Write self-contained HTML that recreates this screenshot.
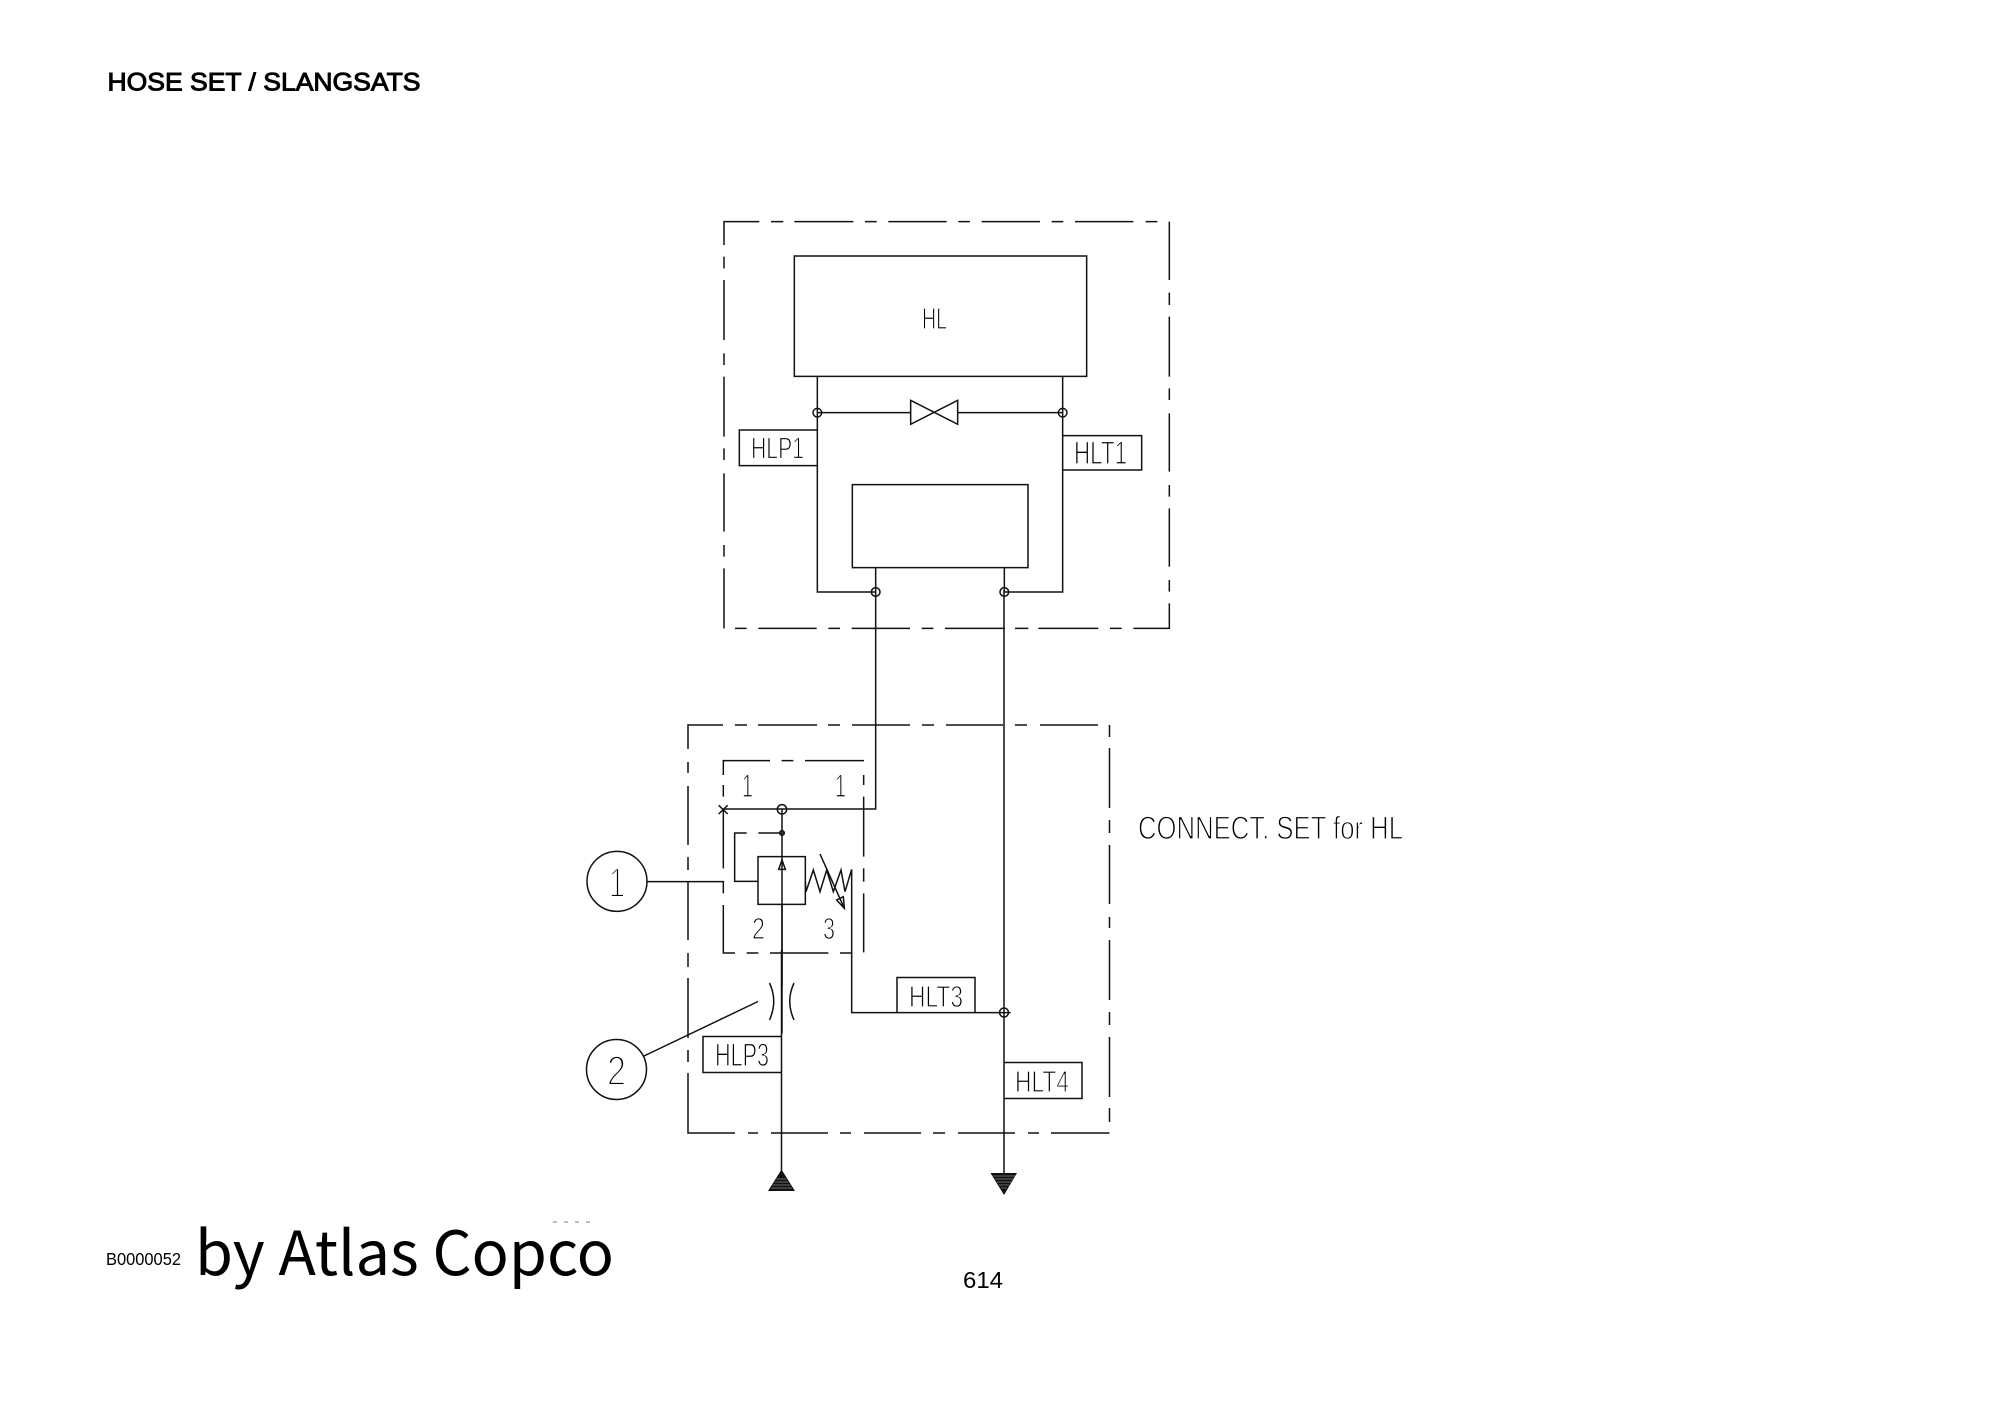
<!DOCTYPE html>
<html><head><meta charset="utf-8"><style>
html,body{margin:0;padding:0;background:#fff;width:2000px;height:1415px;overflow:hidden}
svg{display:block}
.l{fill:none;stroke:#111;stroke-width:1.5}
.t{font-family:"Liberation Sans",sans-serif;fill:#000;stroke:#fff;stroke-width:1.15;}
.b{stroke-width:1.9}
.h{font-family:"Liberation Sans",sans-serif;fill:#000}
</style></head><body>
<svg width="2000" height="1415" viewBox="0 0 2000 1415" xmlns="http://www.w3.org/2000/svg">
<rect width="2000" height="1415" fill="#fff"/>
<!-- upper group in zoom coords -->
<g transform="translate(700 200) scale(.33333)" class="l" style="stroke-width:4.5">
<path d="M72 135V65H178M213 65H250M283 65H460M495 65H530M565 65H740M775 65H810M845 65H1020M1055 65H1090M1125 65H1300M1337 65H1372M1408 65V240M1408 278V315M1408 350V530M1408 565V600M1408 640V815M1408 855V890M1408 925V1100M1408 1140V1175M1408 1210V1285H1300M1265 1285H1230M1195 1285H1015M985 1285H945M915 1285H735M700 1285H665M630 1285H455M420 1285H385M350 1285H175M140 1285H105M72 1285V1105M72 1070V1035M72 995V820M72 780V745M72 710V530M72 495V460M72 420V240M72 205V170"/>
<path d="M283 168H1160V529H283Z"/>
<path d="M352 529V1176H527M1088 529V1176H913"/>
<path d="M352 638H632M773 638H1088"/>
<path d="M632 601V673L773 601V673Z"/>
<path d="M352 690H118V797H352M1088 707H1325V810H1088"/>
<path d="M457 854H984V1103H457Z"/>
<path d="M527 1103V1500M913 1103V1176"/>
<circle cx="352" cy="638" r="13"/><circle cx="1088" cy="638" r="13"/>
<circle cx="527" cy="1176" r="13"/><circle cx="913" cy="1176" r="13"/>
</g>
<!-- connect set dashed box -->
<path class="l" d="M688 749V725H723M735 725H747M758 725H817M828 725H840M852 725H910M922 725H934M946 725H1003M1015 725H1027M1040 725H1098M1109.5 725V737M1109.5 748V808M1109.5 820V833M1109.5 845V904M1109.5 917V928M1109.5 940V1000M1109.5 1012V1025M1109.5 1037V1097M1109.5 1108V1122M1109.5 1133H1051M1039 1133H1028M1015 1133H958M945 1133H933M921 1133H864M851 1133H840M828 1133H771M758 1133H748M735 1133H688V1073M688 1062V1050M688 1038V978M688 967V953M688 940V882M688 870V857M688 845V786M688 773V762"/>
<!-- inner dashed box -->
<g transform="translate(560 700) scale(.33333)" class="l" style="stroke-width:4.5">
<path d="M490 225V182H630M665 182H700M735 182H912M911 225V255M911 290V470M911 505V545M911 580V757M875 759H840M805 759H630M595 759H560M525 759H490V615M490 580V545H262M490 505V328M490 290V255"/>
<path d="M476 316L503 342M503 316L476 342"/>
<path d="M490 327H947V0"/>
<path d="M666 327V859"/>
<path d="M666 399H595M560 399H524V544H594"/>
<path d="M594 470H736V613H594Z"/>
<path d="M666 480L656 508H676Z"/>
<path d="M736 545L738 575L760 510L780 575L800 510L820 575L843 510L855 575L875 508V938H1352"/>
<path d="M780 462L853 625M830 600L853 625L850 590Z"/>
<circle cx="666" cy="328" r="14"/>
<circle cx="666" cy="399" r="7" fill="#333"/>
<circle cx="171" cy="544" r="90"/>
<path d="M666 613V1000"/>
</g>
<!-- orifice -->
<path class="l" d="M769.5 983Q778 1001 769.5 1020M794 983Q785.5 1001 794 1020"/>
<path class="l" d="M781.5 950V1171"/>
<path class="l" d="M1004 590V1173"/>
<circle class="l" cx="1004" cy="1012.5" r="4.5"/>
<path class="l" d="M897 1012.5V977.5H975V1012.5"/>
<path class="l" d="M781 1036.5H703V1072.5H781"/>
<path class="l" d="M1004 1062.5H1082V1098.5H1004"/>
<circle class="l" cx="616.5" cy="1069.5" r="30"/>
<path class="l" d="M644 1056L758 1001.5"/>
<path d="M781.500 1169.500L795 1191H768Z" fill="#111"/>
<path d="M771 1188H792M772.500 1185H790.500M774.500 1182H788.500M776.500 1179H786.500" stroke="#888" stroke-width=".7" fill="none"/>
<path d="M990.500 1173H1017L1004 1195Z" fill="#111"/>
<path d="M993 1176H1015M995 1179H1013M997 1182H1011M999 1185H1009M1001 1188H1007" stroke="#888" stroke-width=".7" fill="none"/>
<!-- labels -->
<text class="t" x="922" y="329" font-size="31" textLength="25" lengthAdjust="spacingAndGlyphs">HL</text>
<text class="t" x="751" y="458.500" font-size="31" textLength="53" lengthAdjust="spacingAndGlyphs">HLP1</text>
<text class="t" x="1074" y="464" font-size="32" textLength="53" lengthAdjust="spacingAndGlyphs">HLT1</text>
<text class="t" x="715" y="1066" font-size="32" textLength="54" lengthAdjust="spacingAndGlyphs">HLP3</text>
<text class="t" x="909" y="1007" font-size="31" textLength="54" lengthAdjust="spacingAndGlyphs">HLT3</text>
<text class="t" x="1015" y="1092" font-size="31" textLength="54" lengthAdjust="spacingAndGlyphs">HLT4</text>
<text class="t" x="1138" y="839" font-size="32" textLength="265" lengthAdjust="spacingAndGlyphs">CONNECT. SET for HL</text>
<text class="t" x="742" y="797" font-size="32" textLength="11" lengthAdjust="spacingAndGlyphs">1</text>
<text class="t" x="835" y="797" font-size="32" textLength="11" lengthAdjust="spacingAndGlyphs">1</text>
<text class="t" x="752" y="939" font-size="31" textLength="13" lengthAdjust="spacingAndGlyphs">2</text>
<text class="t" x="823" y="939" font-size="31" textLength="12" lengthAdjust="spacingAndGlyphs">3</text>
<text class="t b" x="609" y="897" font-size="42" textLength="16" lengthAdjust="spacingAndGlyphs">1</text>
<text class="t b" x="607" y="1085" font-size="42" textLength="19" lengthAdjust="spacingAndGlyphs">2</text>
<text class="h" x="107.500" y="90.500" font-size="25" textLength="313" lengthAdjust="spacingAndGlyphs" style="stroke:#000;stroke-width:.95">HOSE SET / SLANGSATS</text>
<text class="h" x="106" y="1265" font-size="17.500" textLength="75" lengthAdjust="spacingAndGlyphs">B0000052</text>
<text x="195" y="1275" font-size="61" textLength="419" lengthAdjust="spacingAndGlyphs" style='font-family:"Noto Sans CJK SC","Liberation Sans",sans-serif;fill:#000'>by Atlas Copco</text>
<text class="h" x="963" y="1288" font-size="23" textLength="40" lengthAdjust="spacingAndGlyphs">614</text>
<path d="M553 1222H592" stroke="#999" stroke-width="1.200" stroke-dasharray="4 7" fill="none"/>
</svg>
</body></html>
